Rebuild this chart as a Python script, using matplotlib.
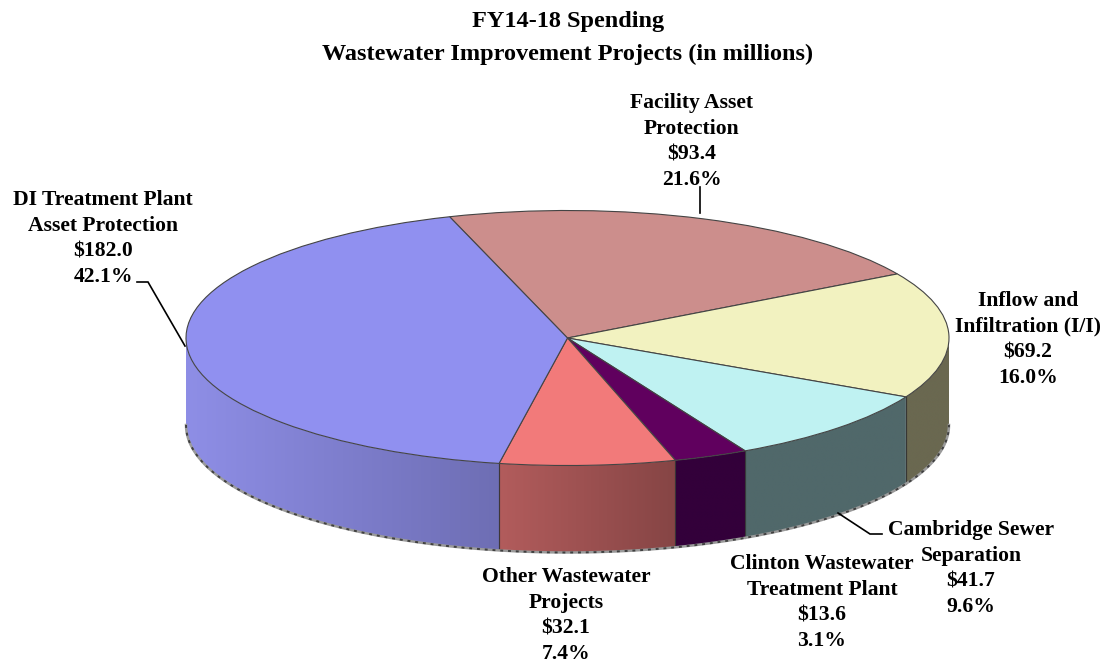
import numpy as np
import matplotlib
matplotlib.use("Agg")
import matplotlib.pyplot as plt
from matplotlib.patches import Polygon
from matplotlib.transforms import Affine2D
from matplotlib.colors import to_rgb

title_lines = ["FY14-18 Spending", "Wastewater Improvement Projects (in millions)"]
categories = ["Facility Asset\nProtection", "Inflow and\nInfiltration (I/I)", "Cambridge Sewer\nSeparation",
              "Clinton Wastewater\nTreatment Plant", "Other Wastewater\nProjects", "DI Treatment Plant\nAsset Protection"]
values = [93.4, 69.2, 41.7, 13.6, 32.1, 182.0]
percents = [21.6, 16.0, 9.6, 3.1, 7.4, 42.1]

top_colors = ["#CC8E8C", "#F2F2C0", "#BFF2F2", "#60005E", "#F27A7A", "#9090F0"]
side_left = ["#8A6060", "#6A6850", "#50686A", "#33003A", "#B25C5C", "#8E8EE6"]
side_right = ["#8A6060", "#6A6850", "#50686A", "#33003A", "#864545", "#6E6EB4"]

W, H = 1106, 664
CX, CY, RX, RY, DEPTH = 567.5, 338.0, 381.5, 127.5, 87.0
START = 108.0
FONT = "Liberation Serif"
LINE_STEP = 25.6

fig = plt.figure(figsize=(W / 100, H / 100), dpi=100, facecolor="white")
ax = fig.add_axes([0, 0, 1, 1])
px = Affine2D().scale(1, -1).translate(0, H)

wedges, _ = ax.pie(values, startangle=START, counterclock=False, colors=top_colors, radius=1, center=(0, 0),
                   wedgeprops=dict(edgecolor="#444444", linewidth=0.8, zorder=3))
d = DEPTH / RY

# extruded side wall, drawn from the same wedge angles (visible part: -180..0 degrees)
for w, cl, cr in zip(wedges, side_left, side_right):
    a0, a1 = max(w.theta1, -180.0), min(w.theta2, 0.0)
    if a1 <= a0:
        continue
    t = np.radians(np.linspace(a0, a1, 200))
    x, y = np.cos(t), np.sin(t)
    poly = Polygon(np.c_[np.r_[x, x[::-1]], np.r_[y, y[::-1] - d]], closed=True, transform=ax.transData,
                   fc="none", ec="none")
    ax.add_patch(poly)
    grad = np.linspace(to_rgb(cl), to_rgb(cr), 128)[np.newaxis, :, :]
    im = ax.imshow(grad, extent=(x.min(), x.max(), (y - d).min(), y.max()), aspect="auto",
                   origin="lower", zorder=1, interpolation="bilinear")
    im.set_clip_path(poly)
    for a in (a0, a1):
        if -179.5 < a < -0.5:
            xa, ya = np.cos(np.radians(a)), np.sin(np.radians(a))
            ax.plot([xa, xa], [ya, ya - d], color="#333333", lw=0.8, alpha=0.7, zorder=2)

ax.set_aspect("auto")
ax.set_xlim(-CX / RX, (W - CX) / RX)
ax.set_ylim(-(H - CY) / RY, CY / RY)
ax.axis("off")

# lower rim of the wall
tt = np.radians(np.linspace(180, 360, 361))
ax.plot(np.cos(tt), np.sin(tt) - d, color="#9a9a9a", lw=1.8, zorder=2)
ax.plot(np.cos(tt), np.sin(tt) - d, color="#404040", lw=1.4, ls=(0, (1.5, 2.5)), zorder=2)

# title
for line, y in zip(title_lines, [22, 54]):
    fig.text(568, y, line, transform=px, ha="center", va="center", fontsize=17.5, fontweight="bold",
             family=FONT, color="black")

# data labels, one text per line
label_pos = [(692, 103), (1028, 301), (971, 530), (822, 564), (566, 577), (103, 200)]
for name, v, p, (lx, ly) in zip(categories, values, percents, label_pos):
    for i, line in enumerate(name.split("\n") + [f"${v:.1f}", f"{p:.1f}%"]):
        fig.text(lx, ly + i * LINE_STEP, line, transform=px, ha="center", va="center", fontsize=15.6,
                 fontweight="bold", family=FONT, color="black")

# leader lines
leaders = [([700, 700], [187, 213]), ([137, 148, 185], [282, 282, 346]), ([838, 870, 882], [513, 534, 534])]
for lxs, lys in leaders:
    ax.plot(lxs, lys, color="black", lw=1.2, transform=px, zorder=5, solid_joinstyle="miter")

fig.savefig("out.png", dpi=100, facecolor="white")
